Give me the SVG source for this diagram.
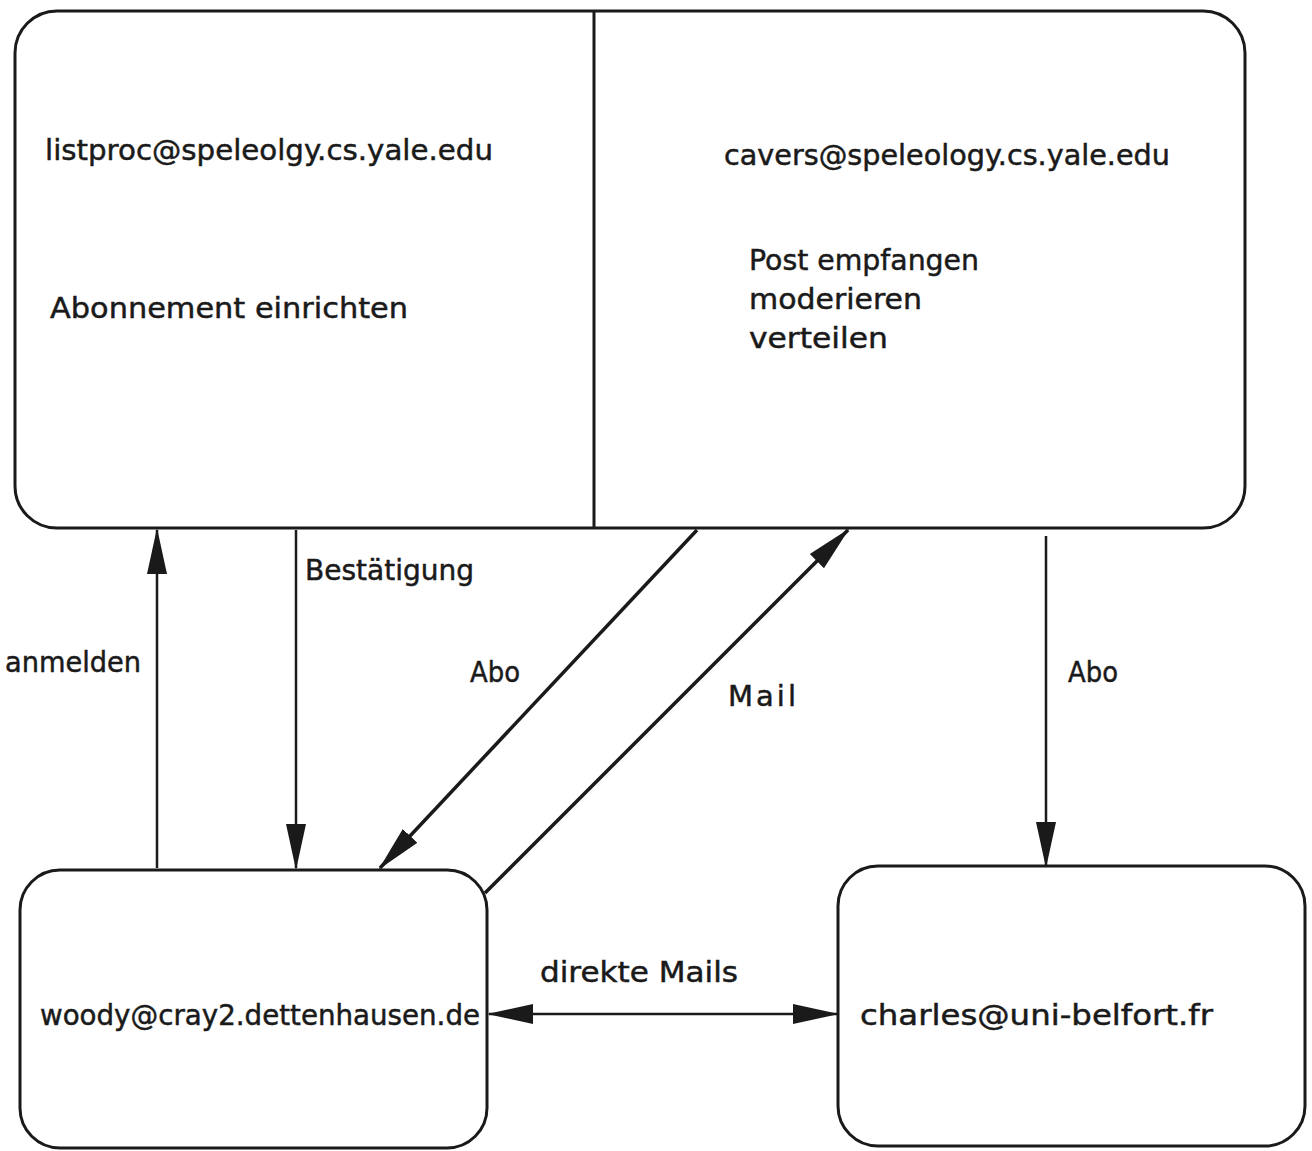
<svg xmlns="http://www.w3.org/2000/svg" width="1312" height="1151" viewBox="0 0 1312 1151">
<defs>
<style>
.box{fill:none;stroke:#1a1a1a;stroke-width:3}
.ln{fill:none;stroke:#1a1a1a;stroke-width:2.5}
.lnd{fill:none;stroke:#1a1a1a;stroke-width:3.5}
text{font-family:"DejaVu Sans","Liberation Sans",sans-serif;font-size:29px;fill:#1a1a1a;stroke:#1a1a1a;stroke-width:0.5}
</style>
<marker id="ah" markerUnits="userSpaceOnUse" markerWidth="46" markerHeight="22" refX="44" refY="11" orient="auto-start-reverse" viewBox="0 0 46 22">
<path d="M0,1 L46,11 L0,21 Z" fill="#1a1a1a"/>
</marker>
</defs>
<rect width="1312" height="1151" fill="#ffffff"/>
<g id="top-box">
<rect class="box" x="15" y="11" width="1230" height="517" rx="42"/>
<line class="box" x1="594" y1="11" x2="594" y2="528"/>
</g>
<g id="listproc">
<text x="45" y="160" textLength="448" lengthAdjust="spacingAndGlyphs">listproc@speleolgy.cs.yale.edu</text>
<text x="50" y="318" textLength="358" lengthAdjust="spacingAndGlyphs">Abonnement einrichten</text>
</g>
<g id="cavers">
<text x="724" y="165" textLength="446" lengthAdjust="spacingAndGlyphs">cavers@speleology.cs.yale.edu</text>
<text x="749" y="270" textLength="230" lengthAdjust="spacingAndGlyphs">Post empfangen</text>
<text x="749" y="309" textLength="173" lengthAdjust="spacingAndGlyphs">moderieren</text>
<text x="749" y="348" textLength="139" lengthAdjust="spacingAndGlyphs">verteilen</text>
</g>
<g id="woody">
<rect class="box" x="20" y="870" width="467" height="278" rx="40"/>
<text x="40" y="1025" textLength="440" lengthAdjust="spacingAndGlyphs">woody@cray2.dettenhausen.de</text>
</g>
<g id="charles">
<rect class="box" x="838" y="866" width="467" height="280" rx="40"/>
<text x="860" y="1025" textLength="353" lengthAdjust="spacingAndGlyphs">charles@uni-belfort.fr</text>
</g>
<g id="connectors">
<line class="ln" x1="157" y1="868" x2="157" y2="530" marker-end="url(#ah)"/>
<line class="ln" x1="296" y1="530" x2="296" y2="868" marker-end="url(#ah)"/>
<line class="lnd" x1="697" y1="530" x2="380" y2="868" marker-end="url(#ah)"/>
<line class="lnd" x1="485" y1="893" x2="848" y2="530" marker-end="url(#ah)"/>
<line class="ln" x1="1046" y1="536" x2="1046" y2="866" marker-end="url(#ah)"/>
<line class="ln" x1="489" y1="1014" x2="837" y2="1014" marker-start="url(#ah)" marker-end="url(#ah)"/>
<text x="305" y="580" textLength="169" lengthAdjust="spacingAndGlyphs">Bestätigung</text>
<text x="5" y="672" textLength="136" lengthAdjust="spacingAndGlyphs">anmelden</text>
<text x="470" y="682" textLength="50" lengthAdjust="spacingAndGlyphs">Abo</text>
<text x="728" y="706" textLength="68" lengthAdjust="spacing">Mail</text>
<text x="1068" y="682" textLength="50" lengthAdjust="spacingAndGlyphs">Abo</text>
<text x="540" y="982" textLength="198" lengthAdjust="spacingAndGlyphs">direkte  Mails</text>
</g>
</svg>
